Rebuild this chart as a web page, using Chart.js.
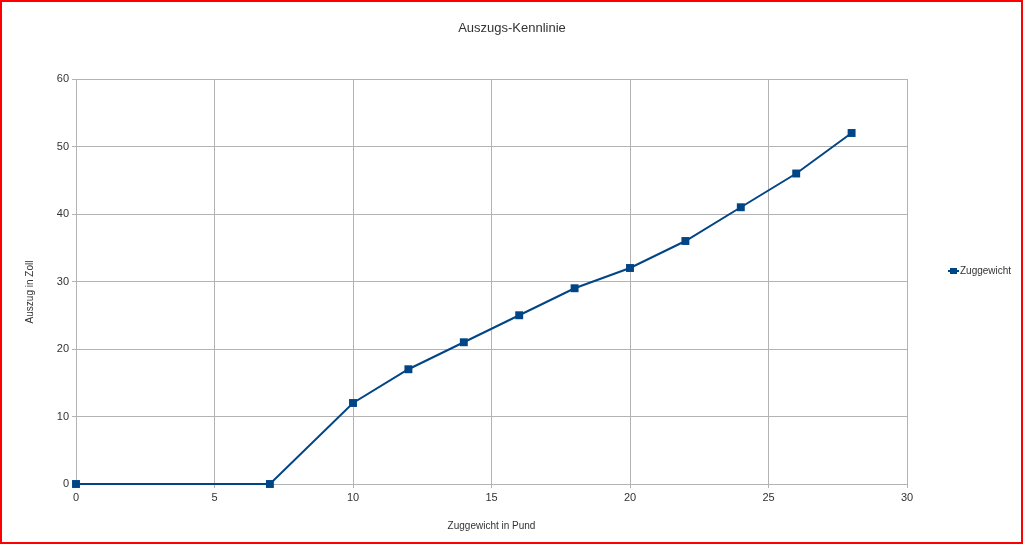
<!DOCTYPE html>
<html>
<head>
<meta charset="utf-8">
<script src="https://cdn.jsdelivr.net/npm/chart.js@4"></script>
<style>
    body { margin: 0; background: #fff; }
    #wrap { position: relative; width: 1024px; height: 545px; }
    #frame { position: absolute; left: 0; top: 0; width: 1019px; height: 540px; border: 2px solid #ff0000; pointer-events: none; }
</style>
</head>
<body>
<div id="wrap">
    <canvas id="kennlinie" width="1024" height="545"></canvas>
    <div id="frame"></div>
</div>
<script>
// Zuggewicht (Pfund) -> Auszug (Zoll)
const zuggewicht = [0, 7, 10, 12, 14, 16, 18, 20, 22, 24, 26, 28];
const auszug = [0, 0, 12, 17, 21, 25, 29, 32, 36, 41, 46, 52];
const seriesName = 'Zuggewicht';
const chartTitle = 'Auszugs-Kennlinie';
const xTitle = 'Zuggewicht in Pund';
const yTitle = 'Auszug in Zoll';

const lineColor = '#004586';
const gridColor = '#b3b3b3';
const textColor = '#333';
const fontFamily = '"Liberation Sans", Arial, sans-serif';

// title, y axis title and legend drawn by hand, like the office chart places them
const extras = {
    id: 'extras',
    afterDraw(chart) {
        const ctx = chart.ctx;
        ctx.save();
        ctx.fillStyle = textColor;
        ctx.font = '13px ' + fontFamily;
        ctx.textAlign = 'center';
        ctx.textBaseline = 'middle';
        ctx.fillText(chartTitle, 512, 28);

        // y axis title, a bit below the plot centre as in the original
        ctx.save();
        ctx.translate(30, 292);
        ctx.rotate(-Math.PI / 2);
        ctx.font = '10px ' + fontFamily;
        ctx.fillText(yTitle, 0, 0);
        ctx.restore();

        // legend entry
        const ly = 271;
        ctx.strokeStyle = lineColor;
        ctx.lineWidth = 2;
        ctx.beginPath();
        ctx.moveTo(948, ly);
        ctx.lineTo(959, ly);
        ctx.stroke();
        ctx.fillStyle = lineColor;
        ctx.fillRect(950, ly - 3, 7, 6);
        ctx.fillStyle = textColor;
        ctx.font = '10px ' + fontFamily;
        ctx.textAlign = 'left';
        ctx.fillText(seriesName, 960, ly);
        ctx.restore();
    }
};

const points = zuggewicht.map((x, i) => ({ x: x, y: auszug[i] }));

new Chart(document.getElementById('kennlinie'), {
    type: 'scatter',
    data: {
        datasets: [{
            label: seriesName,
            data: points,
            showLine: true,
            clip: false,
            borderColor: lineColor,
            backgroundColor: lineColor,
            borderWidth: 2,
            pointStyle: 'rect',
            pointRadius: 5.6,
            pointBorderWidth: 0,
            tension: 0
        }]
    },
    options: {
        responsive: false,
        animation: false,
        layout: { padding: { left: 0, top: 79, right: 117, bottom: 0 } },
        plugins: {
            legend: { display: false },
            title: { display: false },
            tooltip: { enabled: false }
        },
        scales: {
            x: {
                type: 'linear',
                min: 0,
                max: 30,
                ticks: { stepSize: 5, color: textColor, padding: 3, font: { family: fontFamily, size: 11 } },
                grid: { color: gridColor, tickLength: 4 },
                border: { color: gridColor },
                title: { display: true, text: xTitle, color: textColor, padding: { top: 0, bottom: 13 }, font: { family: fontFamily, size: 10 } },
                afterFit(scale) { scale.height = 61; }
            },
            y: {
                min: 0,
                max: 60,
                ticks: { stepSize: 10, color: textColor, padding: 3, font: { family: fontFamily, size: 11 } },
                grid: { color: gridColor, tickLength: 4 },
                border: { color: gridColor },
                title: { display: false },
                afterFit(scale) { scale.width = 76; }
            }
        }
    },
    plugins: [extras]
});
</script>
</body>
</html>
